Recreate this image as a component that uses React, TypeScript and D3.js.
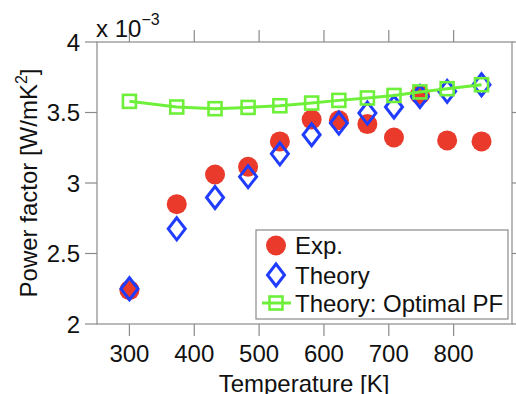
import * as d3 from 'd3';

// temperatures [K]
const temps = [300, 373, 432, 483, 532, 581, 623, 667, 708, 748, 790, 843];
// power factor values in units of 1e-3 W/mK^2
const expPF = [2.24, 2.85, 3.06, 3.115, 3.295, 3.45, 3.445, 3.418, 3.323, 3.626, 3.302, 3.295];
const theoryPF = [2.25, 2.675, 2.897, 3.045, 3.207, 3.342, 3.425, 3.496, 3.539, 3.614, 3.65, 3.697];
const optimalPF = [3.579, 3.539, 3.527, 3.536, 3.548, 3.567, 3.586, 3.603, 3.621, 3.646, 3.669, 3.697];

const xTicks = [300, 400, 500, 600, 700, 800];
const yTicks = [2, 2.5, 3, 3.5, 4];
const legendLabels = ['Exp.', 'Theory', 'Theory: Optimal PF'];

const RED = '#e93a2b';
const BLUE = '#1f3cff';
const GREEN = '#6ef03a';
const AXIS = '#8a8a8a';
const FONT = '"Liberation Sans", Arial, Helvetica, sans-serif';

export default function App() {
  const width = 516, height = 394;
  const M = { left: 97, top: 42, right: 512, bottom: 324 };
  const x = d3.scaleLinear().domain([250, 890]).range([M.left, M.right]);
  const y = d3.scaleLinear().domain([2, 4]).range([M.bottom, M.top]);
  const TICK = 12;

  const line = d3.line<number>().x((_, i) => x(temps[i])).y(d => y(d));
  const diamond = (cx: number, cy: number) =>
    `M${cx},${cy - 11} L${cx + 8.5},${cy} L${cx},${cy + 11} L${cx - 8.5},${cy} Z`;

  const lg = { x: 256, y: 230, w: 252, h: 89 };
  const rowY = [245.5, 275, 303];

  return (
    <svg width={width} height={height} style={{ position: 'absolute', left: 0, top: 0, background: '#fff' }}
      fontFamily={FONT}>
      {/* axis box */}
      <rect x={M.left} y={M.top} width={M.right - M.left} height={M.bottom - M.top}
        fill="none" stroke={AXIS} strokeWidth={1.2} />
      {xTicks.map(t => (
        <g key={'xt' + t}>
          <line x1={x(t)} x2={x(t)} y1={M.bottom} y2={M.bottom + TICK} stroke={AXIS} strokeWidth={1.2} />
          <line x1={x(t)} x2={x(t)} y1={M.top} y2={M.top - TICK} stroke={AXIS} strokeWidth={1.2} />
          <text x={x(t)} y={362} fontSize={24} textAnchor="middle" fill="#111">{t}</text>
        </g>
      ))}
      {yTicks.map(t => (
        <g key={'yt' + t}>
          <line x1={M.left - TICK} x2={M.left} y1={y(t)} y2={y(t)} stroke={AXIS} strokeWidth={1.2} />
          <line x1={M.right} x2={M.right + TICK} y1={y(t)} y2={y(t)} stroke={AXIS} strokeWidth={1.2} />
          <text x={80} y={y(t)} dy="0.36em" fontSize={24} textAnchor="end" fill="#111">{String(t)}</text>
        </g>
      ))}
      {/* exponent */}
      <text x={96} y={37} fontSize={24} fill="#111">x 10<tspan dy={-12} fontSize={16}>−3</tspan></text>

      {/* axis labels */}
      <text x={304} y={392} fontSize={24} textAnchor="middle" fill="#111">Temperature [K]</text>
      <text transform="translate(37,183) rotate(-90)" fontSize={24} textAnchor="middle" fill="#111">
        Power factor [W/mK<tspan dy={-10} fontSize={16}>2</tspan><tspan dy={10}>]</tspan>
      </text>

      {/* data */}
      {expPF.map((v, i) => (
        <circle key={'e' + i} cx={x(temps[i])} cy={y(v)} r={10} fill={RED} />
      ))}
      {theoryPF.map((v, i) => (
        <path key={'t' + i} d={diamond(x(temps[i]), y(v))} fill="none" stroke={BLUE} strokeWidth={3} />
      ))}
      <path d={line(optimalPF) ?? ''} fill="none" stroke={GREEN} strokeWidth={3} />
      {optimalPF.map((v, i) => (
        <rect key={'o' + i} x={x(temps[i]) - 6.5} y={y(v) - 6.5} width={13} height={13}
          fill="none" stroke={GREEN} strokeWidth={2.6} />
      ))}

      {/* legend */}
      <rect x={lg.x} y={lg.y} width={lg.w} height={lg.h} fill="#fff" stroke={AXIS} strokeWidth={1.2} />
      <circle cx={276} cy={rowY[0]} r={10} fill={RED} />
      <path d={diamond(276, rowY[1])} fill="none" stroke={BLUE} strokeWidth={3} />
      <line x1={262} x2={291} y1={rowY[2]} y2={rowY[2]} stroke={GREEN} strokeWidth={3} />
      <rect x={276 - 6.5} y={rowY[2] - 6.5} width={13} height={13} fill="none" stroke={GREEN} strokeWidth={2.6} />
      {legendLabels.map((l, i) => (
        <text key={l} x={295} y={rowY[i]} dy="0.36em" fontSize={24} fill="#111">{l}</text>
      ))}
    </svg>
  );
}
